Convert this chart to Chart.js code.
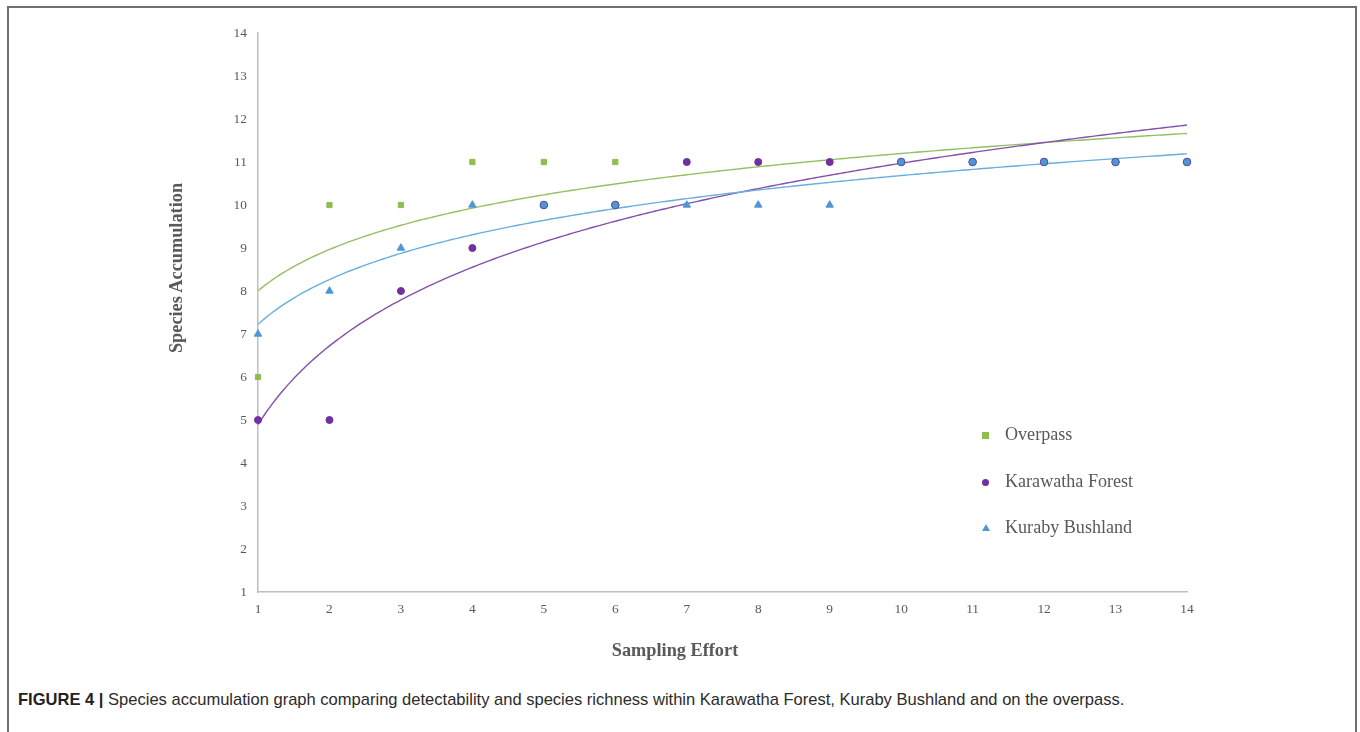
<!DOCTYPE html>
<html>
<head>
<meta charset="utf-8">
<script src="https://cdn.jsdelivr.net/npm/chart.js@4.4.1/dist/chart.umd.min.js"></script>
<style>
  html, body { margin: 0; padding: 0; background: #fff; }
  body { width: 1360px; height: 732px; position: relative; overflow: hidden; }
  #frame { position: absolute; left: 7px; top: 6px; width: 1346px; height: 740px;
           border-left: 2px solid #6f6f6f; border-top: 2px solid #6f6f6f; border-right: 2px solid #6f6f6f; }
  #wrap { position: absolute; left: 0; top: 0; width: 1360px; height: 680px; }
  .axt { position: absolute; font-family: "Liberation Serif", "Times New Roman", serif; font-size: 18.3px;
         font-weight: bold; color: #595959; white-space: nowrap; line-height: 22px; }
  #xt { left: 575px; top: 639px; width: 200px; text-align: center; }
  #yt { left: 76px; top: 257px; width: 200px; text-align: center; transform: rotate(-90deg); }
  #legend { position: absolute; left: 982px; top: 424px; font-family: "Liberation Serif", "Times New Roman", serif;
            font-size: 18.1px; color: #595959; }
  #legend .row { height: 46.5px; display: flex; align-items: flex-start; white-space: nowrap; }
  #legend .mk { display: inline-block; margin-right: 16px; }
  #caption { position: absolute; left: 18px; top: 690px; font-family: "Liberation Sans", Arial, sans-serif;
             font-size: 16.55px; color: #2b2b2b; white-space: nowrap; }
  #caption b { font-weight: bold; color: #222; }
</style>
</head>
<body>
<div id="frame"></div>
<div id="wrap"><canvas id="c" width="1360" height="680"></canvas></div>
<div id="xt" class="axt"></div>
<div id="yt" class="axt"></div>
<div id="legend"></div>
<div id="caption"><b>FIGURE 4 |</b> Species accumulation graph comparing detectability and species richness within Karawatha Forest, Kuraby Bushland and on the overpass.</div>
<script>
// ---- data ----
const samplingEffort = [1, 2, 3, 4, 5, 6, 7, 8, 9, 10, 11, 12, 13, 14];
const overpass      = [6, 10, 10, 11, 11, 11, 11, 11, 11, 11, 11, 11, 11, 11];
const karawatha     = [5, 5, 8, 9, 10, 10, 11, 11, 11, 11, 11, 11, 11, 11];
const kuraby        = [7, 8, 9, 10, 10, 10, 10, 10, 10, 11, 11, 11, 11, 11];
const seriesNames   = ["Overpass", "Karawatha Forest", "Kuraby Bushland"];
const xTicks = [1, 2, 3, 4, 5, 6, 7, 8, 9, 10, 11, 12, 13, 14];
const yTicks = [1, 2, 3, 4, 5, 6, 7, 8, 9, 10, 11, 12, 13, 14];
const xTitle = "Sampling Effort";
const yTitle = "Species Accumulation";

const colGreen = "#8fbd4f", colPurple = "#7030a0", colBlue = "#4f96d6";
const lineGreen = "#93c062", linePurple = "#8550ad", lineBlue = "#6aaedc";

function pts(xs, ys) { return xs.map((x, i) => ({ x: x, y: ys[i] })); }

// logarithmic least-squares trendline (as in the spreadsheet's trendline) computed from the data
function logTrend(xs, ys) {
  const n = xs.length;
  const L = xs.map(Math.log);
  const mL = L.reduce((a, b) => a + b, 0) / n;
  const mY = ys.reduce((a, b) => a + b, 0) / n;
  let sxy = 0, sxx = 0;
  for (let i = 0; i < n; i++) { sxy += (L[i] - mL) * (ys[i] - mY); sxx += (L[i] - mL) * (L[i] - mL); }
  const b = sxy / sxx, a = mY - b * mL;
  const out = [];
  const x0 = xs[0], x1 = xs[n - 1];
  for (let k = 0; k <= 260; k++) { const x = x0 + (x1 - x0) * k / 260; out.push({ x: x, y: a + b * Math.log(x) }); }
  return out;
}

const kurabyStyles = kuraby.map((v, i) => v === karawatha[i] ? "circle" : "triangle");
const kurabyBorders = kuraby.map((v, i) => v === karawatha[i] ? "#5b4fa0" : colBlue);
const kurabyRadius = kuraby.map((v, i) => v === karawatha[i] ? 3.8 : 4.3);

const serif = "'Liberation Serif', 'Times New Roman', serif";
const grey = "#595959";

new Chart(document.getElementById("c"), {
  type: "scatter",
  data: {
    datasets: [
      { label: seriesNames[2], data: pts(samplingEffort, kuraby), order: 0, clip: false,
        pointStyle: kurabyStyles, backgroundColor: colBlue, borderColor: kurabyBorders, borderWidth: 1,
        pointRadius: kurabyRadius, pointHoverRadius: kurabyRadius },
      { label: seriesNames[1], data: pts(samplingEffort, karawatha), order: 1, clip: false,
        pointStyle: "circle", backgroundColor: colPurple, borderColor: colPurple, borderWidth: 1,
        pointRadius: 3.5 },
      { label: seriesNames[0], data: pts(samplingEffort, overpass), order: 2, clip: false,
        pointStyle: "rect", backgroundColor: colGreen, borderColor: colGreen, borderWidth: 1,
        pointRadius: 3.7 },
      { label: seriesNames[0] + " trend", data: logTrend(samplingEffort, overpass), order: 5,
        type: "line", showLine: true, pointRadius: 0, borderColor: lineGreen, borderWidth: 1.4, fill: false, tension: 0 },
      { label: seriesNames[1] + " trend", data: logTrend(samplingEffort, karawatha), order: 4,
        type: "line", showLine: true, pointRadius: 0, borderColor: linePurple, borderWidth: 1.4, fill: false, tension: 0 },
      { label: seriesNames[2] + " trend", data: logTrend(samplingEffort, kuraby), order: 3,
        type: "line", showLine: true, pointRadius: 0, borderColor: lineBlue, borderWidth: 1.4, fill: false, tension: 0 }
    ]
  },
  options: {
    responsive: false,
    animation: false,
    layout: { padding: { left: 158, right: 173, top: 33, bottom: 8 } },
    plugins: { legend: { display: false }, tooltip: { enabled: false } },
    scales: {
      x: {
        type: "linear", min: 1, max: 14,
        afterBuildTicks: s => { s.ticks = xTicks.map(v => ({ value: v })); },
        afterFit: s => { s.height = 80; },
        grid: { display: false, drawTicks: false },
        border: { display: true, color: "#bfbfbf", width: 1.5 },
        ticks: { padding: 9, color: grey, font: { family: serif, size: 13.4 }, maxRotation: 0, autoSkip: false },
        title: { display: false, text: xTitle }
      },
      y: {
        type: "linear", min: 1, max: 14,
        afterBuildTicks: s => { s.ticks = yTicks.map(v => ({ value: v })); },
        afterFit: s => { s.width = 100; },
        grid: { display: false, drawTicks: false },
        border: { display: true, color: "#bfbfbf", width: 1.5 },
        ticks: { padding: 11, color: grey, font: { family: serif, size: 13.4 }, autoSkip: false },
        title: { display: false, text: yTitle }
      }
    }
  }
});

document.getElementById("xt").textContent = xTitle;
document.getElementById("yt").textContent = yTitle;

// legend (HTML)
const legend = document.getElementById("legend");
const legendMarks = [
  '<span class="mk" style="width:7px;height:7px;background:' + colGreen + ';margin-top:8px"></span>',
  '<span class="mk" style="width:7px;height:7px;border-radius:50%;background:' + colPurple + ';margin-top:8px"></span>',
  '<span class="mk" style="width:0;height:0;border-left:4px solid transparent;border-right:4px solid transparent;border-bottom:7px solid ' + colBlue + ';margin-top:7px;margin-right:15px"></span>'
];
seriesNames.forEach((n, i) => {
  const r = document.createElement("div");
  r.className = "row";
  r.innerHTML = legendMarks[i] + "<span>" + n + "</span>";
  legend.appendChild(r);
});
</script>
</body>
</html>
